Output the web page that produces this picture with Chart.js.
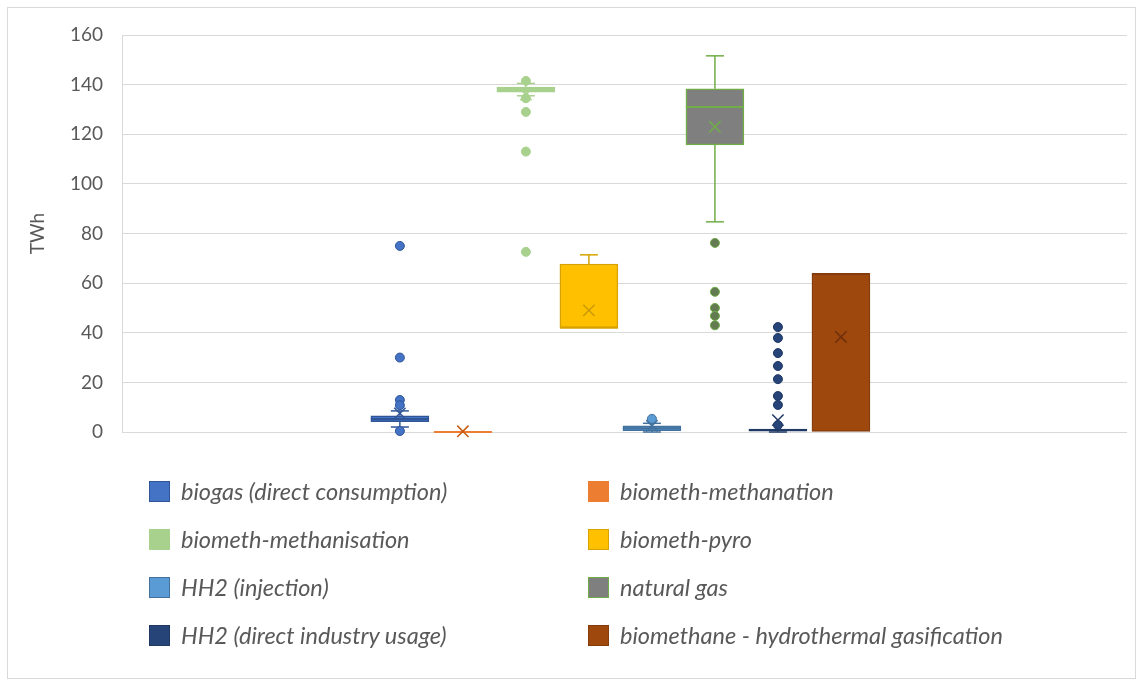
<!DOCTYPE html>
<html>
<head>
<meta charset="utf-8">
<title>TWh box plot</title>
<script src="https://cdn.jsdelivr.net/npm/chart.js@4.4.1/dist/chart.umd.min.js"></script>
<style>
  html, body { margin: 0; padding: 0; background: #fff; overflow: hidden; }
  #frame { position: absolute; left: 7px; top: 7px; width: 1129px; height: 672px; border: 1px solid #d9d9d9; box-sizing: border-box; }
  #wrap { position: absolute; left: 0; top: 0; width: 1136px; height: 680px; }
  .item { position: absolute; height: 28px; display: flex; align-items: center;
          font: italic 23.5px Lato, "Open Sans", sans-serif; color: #595959; white-space: nowrap; }
  .swatch { width: 21px; height: 21px; box-sizing: border-box; border: 1.5px solid; margin-right: 11px; }
</style>
</head>
<body>
<div id="frame"></div>
<div id="wrap"><canvas id="boxChart" width="1136" height="680"></canvas></div>
<div id="legend"></div>

<script>
// ── data ──
const SERIES = [
  'biogas (direct consumption)', 'biometh-methanation',
  'biometh-methanisation', 'biometh-pyro',
  'HH2 (injection)', 'natural gas',
  'HH2 (direct industry usage)', 'biomethane - hydrothermal gasification'
];
const Q1         = [4.2, 0,   137,   42,   0.5, 115.7, 0.3, 0];
const Q3         = [6.5, 0,   139,   67.7, 2.5, 138.3, 1.2, 63.7];
const MEDIAN     = [5.2, 0,   138,   42,   1.5, 131,   0.8, 63.7];
const MEAN       = [7.5, 0.3, 136,   49,   2.5, 123,   4.8, 38.3];
const WHISKER_LO = [2,   0,   135.5, 42,   0,   84.7,  0,   0];
const WHISKER_HI = [8.5, 0,   140.5, 71.4, 3.5, 151.6, 1.2, 63.7];
const OUTLIERS = [
  [75, 30, 12.9, 10.8, 0.4],
  [],
  [141.5, 134.5, 129, 113, 72.6],
  [],
  [5.3],
  [76.2, 56.5, 50, 46.8, 43],
  [42.3, 37.9, 31.8, 26.6, 21.3, 14.5, 10.9, 2.8],
  []
];
const Y_TICKS = { min: 0, max: 160, step: 20 };

// ── styles ──
const FILL = ['#4472C4', '#ED7D31', '#A9D18E', '#FFC000', '#5B9BD5', '#7F7F7F', '#264478', '#9E480E'];
const EDGE = ['#2F5597', '#ED7D31', '#A9D18E', '#D6A300', '#41719C', '#70AD47', '#1F3864', '#843C0C'];
const MARK = ['#2F5597', '#C55A11', '#A9D18E', '#C99A06', '#41719C', '#70AD47', '#1F3864', '#6E2F0A'];
const DOT_FILL = ['#4472C4', '#ED7D31', '#A9D18E', '#FFC000', '#5B9BD5', '#637A52', '#264478', '#9E480E'];
const GRID = '#d9d9d9';
const TEXT = '#595959';

(function () {
  'use strict';

  const idx = SERIES.map((_, i) => i);

  // whisker stems, one line dataset per series (gap across the box)
  const whiskers = idx.map(i => ({
    type: 'line',
    order: 4,
    clip: false,
    data: [
      { x: i, y: WHISKER_LO[i] }, { x: i, y: Q1[i] },
      { x: i, y: null },
      { x: i, y: Q3[i] }, { x: i, y: WHISKER_HI[i] }
    ],
    borderColor: EDGE[i],
    borderWidth: 1.5,
    pointRadius: 0,
    spanGaps: false
  }));

  // whisker caps
  const capPts = [], capCol = [];
  idx.forEach(i => {
    if (WHISKER_HI[i] > Q3[i]) { capPts.push({ x: i, y: WHISKER_HI[i] }); capCol.push(EDGE[i]); }
    if (WHISKER_LO[i] < Q1[i]) { capPts.push({ x: i, y: WHISKER_LO[i] }); capCol.push(EDGE[i]); }
  });

  const outPts = [], outFill = [], outEdge = [];
  OUTLIERS.forEach((arr, i) => arr.forEach(v => {
    outPts.push({ x: i, y: v }); outFill.push(DOT_FILL[i]); outEdge.push(MARK[i]);
  }));

  const datasets = [
    {
      type: 'scatter', order: 0, clip: false,
      data: outPts,
      pointStyle: 'circle', pointRadius: 4.5,
      pointBackgroundColor: outFill, pointBorderColor: outEdge, pointBorderWidth: 1
    },
    {
      type: 'scatter', order: 1, clip: false,
      data: idx.map(i => ({ x: i, y: MEAN[i] })),
      pointStyle: 'crossRot', pointRadius: 8,
      pointBorderColor: MARK, pointBorderWidth: 1.5, pointBackgroundColor: 'transparent'
    },
    {
      type: 'scatter', order: 2, clip: false,
      data: idx.map(i => ({ x: i, y: MEDIAN[i] })),
      pointStyle: 'line', pointRadius: 29,
      pointBorderColor: EDGE, pointBorderWidth: 2
    },
    {
      type: 'scatter', order: 3, clip: false,
      data: capPts,
      pointStyle: 'line', pointRadius: 9,
      pointBorderColor: capCol, pointBorderWidth: 1.5
    },
    ...whiskers,
    {
      type: 'bar', order: 5, clip: false,
      data: idx.map(i => ({ x: i, y: [Q1[i], Q3[i]] })),
      backgroundColor: FILL,
      borderColor: EDGE,
      borderWidth: 1.5,
      borderSkipped: false,
      barThickness: 58
    }
  ];

  new Chart(document.getElementById('boxChart'), {
    type: 'bar',
    data: { datasets },
    options: {
      responsive: false,
      animation: false,
      events: [],
      layout: { autoPadding: false, padding: { left: 0, top: 35, right: 9, bottom: 248 } },
      scales: {
        x: {
          type: 'linear', display: false, offset: false,
          min: -4.41, max: 11.54
        },
        y: {
          min: Y_TICKS.min, max: Y_TICKS.max,
          border: { display: true, color: GRID },
          grid: { color: GRID, lineWidth: 1, drawTicks: false },
          ticks: {
            stepSize: Y_TICKS.step, padding: 19, color: TEXT,
            font: { family: 'Lato, "Open Sans", sans-serif', size: 19 }
          },
          title: {
            display: true, text: 'TWh', color: TEXT,
            padding: { top: 26, bottom: 4 },
            font: { family: 'Lato, "Open Sans", sans-serif', size: 19 }
          },
          afterFit(scale) { scale.width = 122; }
        }
      },
      plugins: { legend: { display: false }, tooltip: { enabled: false } }
    }
  });

  // ── HTML legend, two columns ──
  const legend = document.getElementById('legend');
  const colX = [149, 588];
  const rowY = [477, 525, 573, 621];
  SERIES.forEach((name, i) => {
    const el = document.createElement('div');
    el.className = 'item';
    el.style.left = colX[i % 2] + 'px';
    el.style.top = rowY[Math.floor(i / 2)] + 'px';
    const sw = document.createElement('span');
    sw.className = 'swatch';
    sw.style.background = FILL[i];
    sw.style.borderColor = EDGE[i];
    el.appendChild(sw);
    el.appendChild(document.createTextNode(name));
    legend.appendChild(el);
  });
})();
</script>
</body>
</html>
